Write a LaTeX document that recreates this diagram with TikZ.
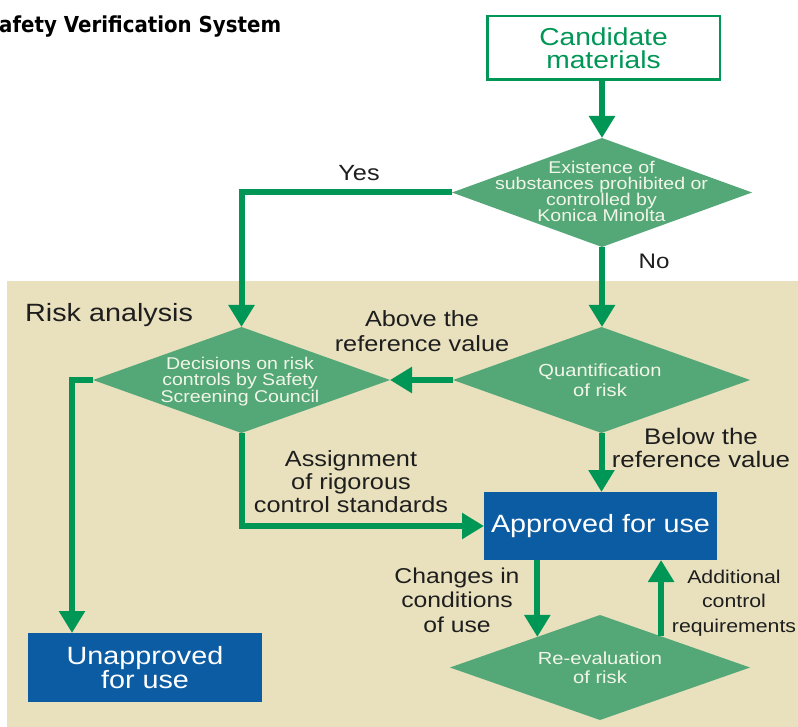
\documentclass[tikz,border=0pt]{standalone}
\usepackage{fontspec}
\setmainfont{Liberation Sans}
\newfontfamily\hv[FakeStretch=1.15]{Liberation Sans}
\newfontfamily\ttl[FakeStretch=0.9]{DejaVu Sans}
\usetikzlibrary{shapes.geometric,arrows.meta}
\definecolor{gline}{RGB}{0,150,85}
\definecolor{gfill}{RGB}{84,168,120}
\definecolor{bbox}{RGB}{12,92,164}
\definecolor{beige}{RGB}{233,225,190}
\definecolor{dtxt}{RGB}{242,246,232}
\definecolor{ltxt}{RGB}{30,30,30}
\newcommand\fs[2]{\fontsize{#1}{#2}\selectfont}
\begin{document}
\begin{tikzpicture}[x=1pt,y=-1pt,
  conn/.style={draw=gline,line width=6pt,-{Triangle[width=25pt,length=22pt]}},
  dia/.style={diamond,fill=gfill,inner sep=0pt,outer sep=0pt},
  dtext/.style={text=dtxt,align=center,inner sep=0pt},
  lbl/.style={text=ltxt,align=center,inner sep=0pt},
  bluebox/.style={fill=bbox,text=white,align=center,inner sep=0pt,outer sep=0pt,font=\hv\fs{25}{23}},
  candbox/.style={draw=gline,line width=2.5pt,fill=white,text=gline,align=center,inner sep=0pt,outer sep=0pt,font=\hv\fs{24.5}{23}}
]
\path[use as bounding box] (0,0) rectangle (798,727);
\fill[beige] (7,281) rectangle (798,727);

\node[anchor=base west,inner sep=0pt,font=\ttl\bfseries\fs{22}{24}] (title) at (-1,33) {afety Verification System};

\node[candbox,minimum width=232.5pt,minimum height=63.5pt] (cand) at (603.5,48) {Candidate\\materials};

\node[dia,minimum width=300pt,minimum height=109pt] (d1) at (602,192.5) {};
\node[dtext,font=\hv\fs{17}{16}] (d1t) at (601.5,191) {Existence of\\substances prohibited or\\controlled by\\Konica Minolta};

\node[dia,minimum width=297pt,minimum height=106pt] (q) at (601.5,380) {};
\node[dtext,font=\hv\fs{17.5}{20}] (qt) at (600,380.6) {Quantification\\of risk};

\node[dia,minimum width=297pt,minimum height=106pt] (d2) at (241.5,380) {};
\node[dtext,font=\hv\fs{17}{16.5}] (d2t) at (240,381.5) {Decisions on risk\\controls by Safety\\Screening Council};

\node[dia,minimum width=300pt,minimum height=105pt] (r) at (600,667.5) {};
\node[dtext,font=\hv\fs{17.5}{18.5}] (rt) at (600,667.6) {Re-evaluation\\of risk};

\node[bluebox,minimum width=233pt,minimum height=68pt] (appr) at (600.5,526) {Approved for use};
\node[bluebox,minimum width=234pt,minimum height=69pt] (unap) at (145,667.5) {Unapproved\\for use};

\draw[conn] (d1.north |- cand.south) -- (d1.north);
\draw[conn] (d1.west) -| (d2.north);
\draw[conn] (d1.south) -- (d1.south |- q.north);
\draw[conn] (q.west) -- (d2.east);
\draw[conn] (d2.west) -| ([xshift=44pt]unap.north west);
\draw[conn] (d2.south) |- (appr.west);
\draw[conn] (q.south) -- (q.south |- appr.north);
\draw[conn] (r.154.5 |- appr.south) -- (r.154.5);
\draw[conn] (r.27.3) -- (r.27.3 |- appr.south);

\node[lbl,font=\hv\fs{22}{24}] (yes) at (359,173) {Yes};
\node[lbl,font=\hv\fs{21}{24}] (no) at (654,261) {No};
\node[lbl,anchor=base west,font=\hv\fs{25}{28}] (risk) at (25,322) {Risk analysis};
\node[lbl,font=\hv\fs{22}{25}] (above) at (422,331.5) {Above the\\reference value};
\node[lbl,font=\hv\fs{22.5}{22.5}] (below) at (701,448) {Below the\\reference value};
\node[lbl,font=\hv\fs{22}{23}] (assign) at (351,481.5) {Assignment\\of rigorous\\control standards};
\node[lbl,font=\hv\fs{21.5}{24.5}] (chg) at (457,600) {Changes in\\conditions\\of use};
\node[lbl,font=\hv\fs{18.5}{24.5}] (add) at (734,603) {Additional\\control\\requirements};
\end{tikzpicture}
\end{document}
